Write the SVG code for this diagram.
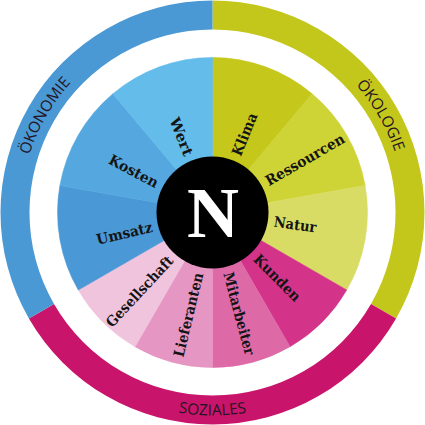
<svg xmlns="http://www.w3.org/2000/svg" width="425" height="425" viewBox="0 0 425 425">
<style>
.lbl{font-family:"DejaVu Serif","Liberation Serif",serif;font-weight:bold;font-size:14.5px;fill:#141414;dominant-baseline:central}
.ring{font-family:"Open Sans","Noto Sans","Liberation Sans",sans-serif;font-size:15.5px;fill:#241424}
.seg{stroke-width:0.6}
</style>
<defs>
<path id="pOek" d="M46.2,308.5 A192,192 0 0 1 212.5,20.5"/>
<path id="pOekol" d="M212.5,20.5 A192,192 0 0 1 378.8,308.5"/>
<path id="pSoz" d="M36.7,314 A203,203 0 0 0 388.3,314"/>
</defs>
<rect width="425" height="425" fill="#ffffff"/>
<g id="ring-oekologie">
<path d="M212.5,0.5 A212,212 0 0 1 396.1,318.5 L371,304 A183,183 0 0 0 212.5,29.5 Z" fill="#c4c71b"/>
<text class="ring"><textPath href="#pOekol" startOffset="50%" text-anchor="middle">ÖKOLOGIE</textPath></text>
</g>
<g id="ring-soziales">
<path d="M396.1,318.5 A212,212 0 0 1 28.9,318.5 L54,304 A183,183 0 0 0 371,304 Z" fill="#c8156b"/>
<text class="ring"><textPath href="#pSoz" startOffset="50%" text-anchor="middle">SOZIALES</textPath></text>
</g>
<g id="ring-oekonomie">
<path d="M28.9,318.5 A212,212 0 0 1 212.5,0.5 L212.5,29.5 A183,183 0 0 0 54,304 Z" fill="#4a98d4"/>
<text class="ring"><textPath href="#pOek" startOffset="50%" text-anchor="middle">ÖKONOMIE</textPath></text>
</g>
<g id="klima"><path class="seg" d="M212.5,212.5 L212.5,57.5 A155,155 0 0 1 312.1,93.8 Z" fill="#c5c81b" stroke="#c5c81b"/>
<text class="lbl" transform="translate(212.5,212.5) rotate(-68)" x="62" textLength="45" lengthAdjust="spacingAndGlyphs">Klima</text></g>
<g id="ressourcen"><path class="seg" d="M212.5,212.5 L312.1,93.8 A155,155 0 0 1 365.1,185.6 Z" fill="#ced336" stroke="#ced336"/>
<text class="lbl" transform="translate(212.5,212.5) rotate(-30)" x="62" textLength="89" lengthAdjust="spacingAndGlyphs">Ressourcen</text></g>
<g id="natur"><path class="seg" d="M212.5,212.5 L365.1,185.6 A155,155 0 0 1 346.7,290 Z" fill="#d9dc64" stroke="#d9dc64"/>
<text class="lbl" transform="translate(212.5,212.5) rotate(8)" x="62" textLength="43" lengthAdjust="spacingAndGlyphs">Natur</text></g>
<g id="kunden"><path class="seg" d="M212.5,212.5 L346.7,290 A155,155 0 0 1 290,346.7 Z" fill="#d3348a" stroke="#d3348a"/>
<text class="lbl" transform="translate(212.5,212.5) rotate(45)" x="62" textLength="60" lengthAdjust="spacingAndGlyphs">Kunden</text></g>
<g id="mitarbeiter"><path class="seg" d="M212.5,212.5 L290,346.7 A155,155 0 0 1 212.5,367.5 Z" fill="#dd69a7" stroke="#dd69a7"/>
<text class="lbl" transform="translate(212.5,212.5) rotate(75)" x="62" textLength="85" lengthAdjust="spacingAndGlyphs">Mitarbeiter</text></g>
<g id="lieferanten"><path class="seg" d="M212.5,212.5 L212.5,367.5 A155,155 0 0 1 135,346.7 Z" fill="#e696c3" stroke="#e696c3"/>
<text class="lbl" transform="translate(212.5,212.5) rotate(283.5)" x="-62" text-anchor="end" textLength="86" lengthAdjust="spacingAndGlyphs">Lieferanten</text></g>
<g id="gesellschaft"><path class="seg" d="M212.5,212.5 L135,346.7 A155,155 0 0 1 78.3,290 Z" fill="#f1c4de" stroke="#f1c4de"/>
<text class="lbl" transform="translate(212.5,212.5) rotate(313)" x="-62" text-anchor="end" textLength="91" lengthAdjust="spacingAndGlyphs">Gesellschaft</text></g>
<g id="umsatz"><path class="seg" d="M212.5,212.5 L78.3,290 A155,155 0 0 1 59.9,185.6 Z" fill="#4a98d5" stroke="#4a98d5"/>
<text class="lbl" transform="translate(212.5,212.5) rotate(347)" x="-62" text-anchor="end" textLength="57" lengthAdjust="spacingAndGlyphs">Umsatz</text></g>
<g id="kosten"><path class="seg" d="M212.5,212.5 L59.9,185.6 A155,155 0 0 1 112.9,93.8 Z" fill="#54a7df" stroke="#54a7df"/>
<text class="lbl" transform="translate(212.5,212.5) rotate(388)" x="-62" text-anchor="end" textLength="54" lengthAdjust="spacingAndGlyphs">Kosten</text></g>
<g id="wert"><path class="seg" d="M212.5,212.5 L112.9,93.8 A155,155 0 0 1 212.5,57.5 Z" fill="#63bce9" stroke="#63bce9"/>
<text class="lbl" transform="translate(212.5,212.5) rotate(428)" x="-62" text-anchor="end" textLength="40" lengthAdjust="spacingAndGlyphs">Wert</text></g>
<g id="center">
<circle cx="212.5" cy="212.5" r="56" fill="#000000"/>
<text x="213" y="236.5" text-anchor="middle" font-family="'Liberation Serif','Times New Roman',serif" font-weight="bold" font-size="72" fill="#ffffff">N</text>
</g>
</svg>
